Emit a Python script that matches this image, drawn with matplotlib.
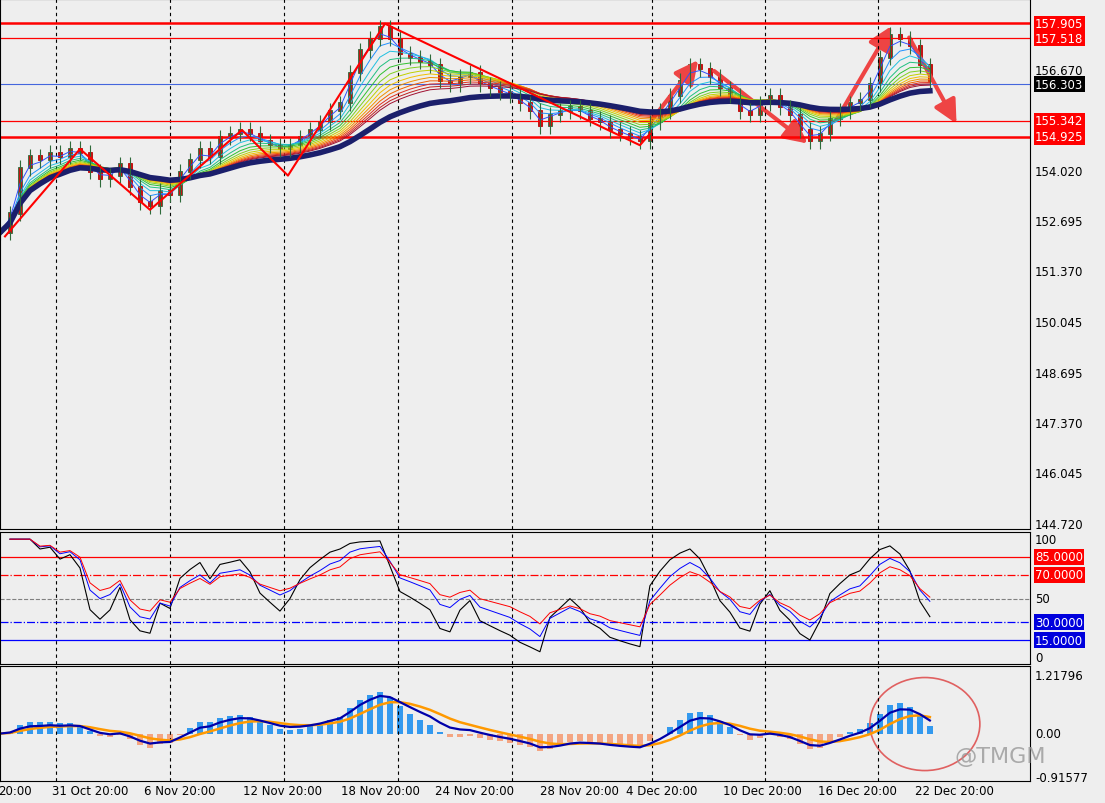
import matplotlib
matplotlib.use("Agg")
import matplotlib.pyplot as plt
import matplotlib.transforms as mtransforms
from matplotlib.patches import Ellipse, FancyArrowPatch
import pandas as pd

# bar positions are in chart units (one bar every 10 units)
bar_x = list(range(0, 940, 10))
closes = [152.4, 152.9, 154.1, 154.4, 154.3, 154.5, 154.4, 154.6, 154.5, 154.0,
          153.8, 153.9, 154.2, 153.6, 153.2, 153.1, 153.5, 153.4, 154.0, 154.3,
          154.6, 154.4, 154.9, 155.0, 155.1, 155.0, 154.8, 154.7, 154.6, 154.7,
          154.9, 155.1, 155.3, 155.6, 155.8, 156.6, 157.2, 157.5, 157.8, 157.5,
          157.1, 157.0, 156.9, 156.8, 156.4, 156.3, 156.5, 156.6, 156.3, 156.2,
          156.1, 156.0, 155.8, 155.6, 155.2, 155.5, 155.6, 155.7, 155.6, 155.4,
          155.3, 155.1, 155.0, 154.9, 154.8, 155.3, 155.6, 156.0, 156.4, 156.8,
          156.7, 156.5, 156.2, 156.0, 155.6, 155.5, 155.8, 156.0, 155.7, 155.5,
          155.1, 154.8, 155.0, 155.4, 155.6, 155.8, 155.9, 156.3, 157.0, 157.6,
          157.5, 157.3, 156.8, 156.4]

levels_thick = [157.905, 154.925]
levels_thin = [157.518, 155.342]
current_price = 156.303
price_ticks = [156.670, 154.020, 152.695, 151.370, 150.045, 148.695, 147.370, 146.045, 144.720]

zigzag_x = [5, 80, 150, 242, 288, 385, 640, 650]
zigzag_y = [152.3, 154.6, 153.0, 155.1, 153.9, 157.9, 154.7, 155.0]
arrows = [((650, 155.3), (700, 157.0)),
          ((712, 156.7), (810, 154.7)),
          ((835, 155.3), (893, 157.9)),
          ((908, 157.6), (958, 155.2))]

date_labels = ["20:00", "31 Oct 20:00", "6 Nov 20:00", "12 Nov 20:00", "18 Nov 20:00",
               "24 Nov 20:00", "28 Nov 20:00", "4 Dec 20:00", "10 Dec 20:00",
               "16 Dec 20:00", "22 Dec 20:00"]
date_pos = [15, 90, 180, 283, 380, 475, 580, 662, 762, 858, 955]
vgrid = [56, 170, 284, 398, 512, 652, 765, 878]

rsi_levels = [85, 70, 50, 30, 15]

s = pd.Series(closes, index=bar_x)
bg = "#eeeeee"

fig = plt.figure(figsize=(11.05, 8.04), dpi=100)
fig.patch.set_facecolor(bg)
ax1 = fig.add_axes([0, 0.341, 0.932, 0.659])
ax2 = fig.add_axes([0, 0.173, 0.932, 0.164], sharex=ax1)
ax3 = fig.add_axes([0, 0.027, 0.932, 0.143], sharex=ax1)
for ax in (ax1, ax2, ax3):
    ax.set_facecolor(bg)
    ax.set_xlim(0, 1030)
    ax.set_xticks([])
    ax.set_yticks([])
    for sp in ax.spines.values():
        sp.set_color("black")
    for v in vgrid:
        ax.axvline(v, color="black", ls=(0, (3, 3)), lw=0.8)

# price panel
ax1.set_ylim(144.6, 158.55)
for lv in levels_thick:
    ax1.axhline(lv, color="red", lw=1.8)
for lv in levels_thin:
    ax1.axhline(lv, color="red", lw=0.9)
ax1.axhline(current_price, color="#4466dd", lw=0.8)

# rainbow ribbon: fast = blue, slow = red
rainbow = ["#3050ff", "#2090ff", "#20c0e0", "#20c080", "#30c030", "#80d020",
           "#c0d000", "#f0c000", "#f09000", "#f06000", "#e03020", "#c02020", "#a01030"]
for i, c in enumerate(rainbow):
    ax1.plot(bar_x, s.ewm(span=2 + 1.6 * i).mean(), color=c, lw=0.7)
ax1.plot(bar_x, s.ewm(span=32).mean(), color="#1b1f6b", lw=4)

opens = [closes[0]] + closes[:-1]
for x, o, c in zip(bar_x, opens, closes):
    hi, lo = max(o, c) + 0.2, min(o, c) - 0.2
    col = "#c00000" if c < o else "#2e6b3a"
    ax1.vlines(x, lo, hi, color="#2e6b3a", lw=0.8)
    ax1.bar(x, abs(c - o) + 0.03, bottom=min(o, c), width=4, color="#cc1111", edgecolor=col, lw=0.6)

ax1.plot(zigzag_x, zigzag_y, color="red", lw=1.5)
for (x0, y0), (x1, y1) in arrows:
    ax1.add_patch(FancyArrowPatch((x0, y0), (x1, y1), arrowstyle="-|>,head_width=0.5,head_length=1.0",
                                  color="#ee4444", lw=3, mutation_scale=14))

tr1 = mtransforms.blended_transform_factory(ax1.transAxes, ax1.transData)
for p in price_ticks:
    ax1.text(1.005, p, f"{p:.3f}", transform=tr1, va="center", fontsize=8.5, clip_on=False)
for p in levels_thick + levels_thin:
    ax1.text(1.005, p, f"{p:.3f}", transform=tr1, va="center", fontsize=8.5, color="white",
             bbox=dict(facecolor="red", edgecolor="none", pad=1), clip_on=False)
ax1.text(1.005, current_price, f"{current_price:.3f}", transform=tr1, va="center", fontsize=8.5,
         color="white", bbox=dict(facecolor="black", edgecolor="none", pad=1), clip_on=False)

# RSI panel
def rsi(series, n):
    d = series.diff()
    up = d.clip(lower=0).ewm(alpha=1 / n).mean()
    dn = (-d.clip(upper=0)).ewm(alpha=1 / n).mean()
    return 100 - 100 / (1 + up / dn)

ax2.set_ylim(-5, 106)
ax2.axhline(85, color="red", lw=0.9)
ax2.axhline(70, color="red", lw=0.9, ls="-.")
ax2.axhline(50, color="grey", lw=0.8, ls="--")
ax2.axhline(30, color="blue", lw=0.9, ls="-.")
ax2.axhline(15, color="blue", lw=0.9)
ax2.plot(bar_x, rsi(s, 4), color="black", lw=0.8)
ax2.plot(bar_x, rsi(s, 7), color="blue", lw=0.7)
ax2.plot(bar_x, rsi(s, 10), color="red", lw=0.7)
tr2 = mtransforms.blended_transform_factory(ax2.transAxes, ax2.transData)
ax2.text(1.005, 100, "100", transform=tr2, va="center", fontsize=8.5)
ax2.text(1.005, 50, "50", transform=tr2, va="center", fontsize=8.5)
ax2.text(1.005, 0, "0", transform=tr2, va="center", fontsize=8.5)
for lv in rsi_levels[:2]:
    ax2.text(1.005, lv, f"{lv:.4f}", transform=tr2, va="center", fontsize=8.5, color="white",
             bbox=dict(facecolor="red", edgecolor="none", pad=1))
for lv in rsi_levels[3:]:
    ax2.text(1.005, lv, f"{lv:.4f}", transform=tr2, va="center", fontsize=8.5, color="white",
             bbox=dict(facecolor="#0000dd", edgecolor="none", pad=1))

# MACD panel
macd = s.ewm(span=6).mean() - s.ewm(span=13).mean()
signal = macd.ewm(span=5).mean()
hist = s.ewm(span=4).mean() - s.ewm(span=10).mean()
ax3.set_ylim(-1.0, 1.41)
ax3.bar(bar_x, hist, width=6, color=["#3399ee" if h > 0 else "#f4a582" for h in hist])
ax3.plot(bar_x, signal, color="#ff9900", lw=1.8)
ax3.plot(bar_x, macd, color="#0000aa", lw=1.6)
ax3.add_patch(Ellipse((925, 0.2), 110, 1.95, fill=False, edgecolor="#e06060", lw=1.2))
tr3 = mtransforms.blended_transform_factory(ax3.transAxes, ax3.transData)
for v, t in [(1.21796, "1.21796"), (0.0, "0.00"), (-0.91577, "-0.91577")]:
    ax3.text(1.005, v, t, transform=tr3, va="center", fontsize=8.5)
ax3.text(955, -0.6, "@TMGM", fontsize=16, color="#999999", alpha=0.8)

for x, lab in zip(date_pos, date_labels):
    ax3.text(x, -1.05, lab, ha="center", va="top", fontsize=8.5)

fig.savefig("out.png", dpi=100, facecolor=bg)
